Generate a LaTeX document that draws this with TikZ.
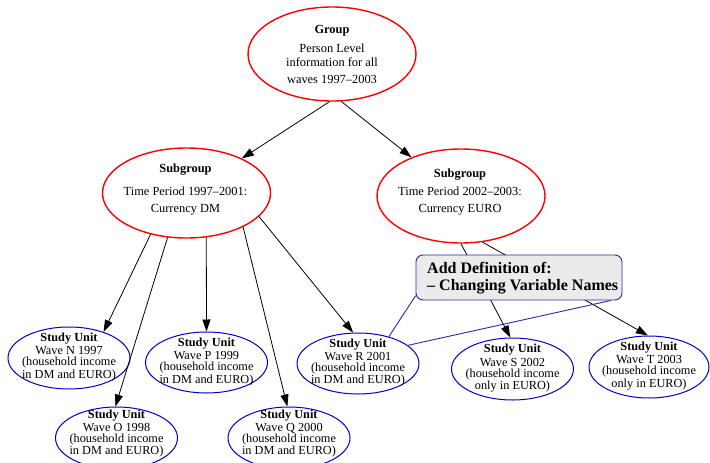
\documentclass[tikz,border=0pt]{standalone}
\usepackage{fontspec}
\setmainfont{Liberation Serif}
\usetikzlibrary{shapes.geometric,arrows.meta}
\definecolor{unitblue}{HTML}{0000CC}
\definecolor{noteblue}{HTML}{2B2B9E}
\definecolor{notefill}{HTML}{EBEBEB}
\tikzset{
  redell/.style={ellipse, draw=red, line width=1.4pt, inner sep=0pt},
  unitell/.style={ellipse, draw=unitblue, line width=1pt, inner sep=0pt,
                  minimum width=122pt, minimum height=62pt},
  bigtxt/.style={align=center, inner sep=0pt, anchor=north,
                 font=\fontsize{12.4}{17.3}\selectfont},
  unittxt/.style={align=center, inner sep=0pt, anchor=north,
                  font=\fontsize{12.3}{11}\selectfont},
  link/.style={draw=black, line width=0.8pt, -{Triangle[length=12pt,width=8pt]}},
  notelink/.style={draw=noteblue, line width=0.9pt},
  notebox/.style={draw=noteblue, fill=notefill, rounded corners=7pt, line width=0.9pt,
                  inner sep=0pt, minimum width=206pt, minimum height=45pt},
  notetxt/.style={align=left, inner sep=0pt, anchor=north west,
                  font=\fontsize{16}{16.7}\selectfont\bfseries},
}
\begin{document}
\begin{tikzpicture}[x=1pt,y=-1pt]
\useasboundingbox (0,0) rectangle (710,463);
\fill[white] (0,0) rectangle (710,463);

% group and subgroups
\node[redell, minimum width=168pt, minimum height=94pt] (grp) at (332,54) {};
\node[bigtxt, font=\fontsize{12.4}{14}\selectfont] (grp-t) at (332,25.4)
  {\textbf{Group}\\[4.3pt] Person Level\\ information for all\\[3pt] waves 1997–2003};

\node[redell, minimum width=168pt, minimum height=90pt] (sgl) at (186.5,193) {};
\node[bigtxt] (sgl-t) at (185.5,163.3)
  {\textbf{Subgroup}\\[6pt] Time Period 1997–2001:\\ Currency DM};

\node[redell, minimum width=168pt, minimum height=94pt] (sgr) at (461,196) {};
\node[bigtxt] (sgr-t) at (460,168.9)
  {\textbf{Subgroup}\\ Time Period 2002–2003:\\ Currency EURO};

% study units
\node[unitell] (n) at (69,358) {};
\node[unittxt] (n-t) at (69,332.7)
  {\textbf{Study Unit}\\[2.5pt] Wave N 1997\\ (household income\\ in DM and EURO)};

\node[unitell, minimum height=61pt] (p) at (206.5,362.5) {};
\node[unittxt] (p-t) at (206.5,337.7)
  {\textbf{Study Unit}\\[2.5pt] Wave P 1999\\ (household income\\ in DM and EURO)};

\node[unitell] (o) at (116.5,438) {};
\node[unittxt] (o-t) at (116.5,409.4)
  {\textbf{Study Unit}\\[2.5pt] Wave O 1998\\ (household income\\ in DM and EURO)};

\node[unitell] (q) at (289,438) {};
\node[unittxt] (q-t) at (289,409.4)
  {\textbf{Study Unit}\\[2.5pt] Wave Q 2000\\ (household income\\ in DM and EURO)};

\node[unitell, minimum height=61pt] (r) at (358,363.5) {};
\node[unittxt] (r-t) at (358,338.4)
  {\textbf{Study Unit}\\[2.5pt] Wave R 2001\\ (household income\\ in DM and EURO)};

\node[unitell] (s) at (512.5,369) {};
\node[unittxt] (s-t) at (512.5,344)
  {\textbf{Study Unit}\\[2.5pt] Wave S 2002\\ (household income\\ only in EURO)};

\node[unitell, minimum width=120pt] (t) at (649,367) {};
\node[unittxt] (t-t) at (649,341.7)
  {\textbf{Study Unit}\\[2.5pt] Wave T 2003\\ (household income\\ only in EURO)};

% hierarchy edges
\draw[link] (grp.-93.6) -- (sgl.32.7);
\draw[link] (grp.-79.4) -- (sgr.142.6);
\draw[link] (sgl.-131.6) -- (n.37.9);
\draw[link] (sgl.-113.5) -- (o.92);
\draw[link] (sgl.-66.5) -- (p.90);
\draw[link] (sgl.-31.1) -- (q.93);
\draw[link] (sgl.-18.9) -- (r.99);
\draw[link] (sgr.-90) -- (s.94.5);
\draw[link] (sgr.-65.9) -- (t.92);

% note attached to wave R
\node[notebox] (note) at (519,277.5) {};
\draw[notelink] (note.-170.4) -- (r.41.7);
\draw[notelink] (note.-14) -- (r.20.6);
\node[notetxt] (note-t) at (427,262.3)
  {Add Definition of:\\ – Changing Variable Names};
\end{tikzpicture}
\end{document}
